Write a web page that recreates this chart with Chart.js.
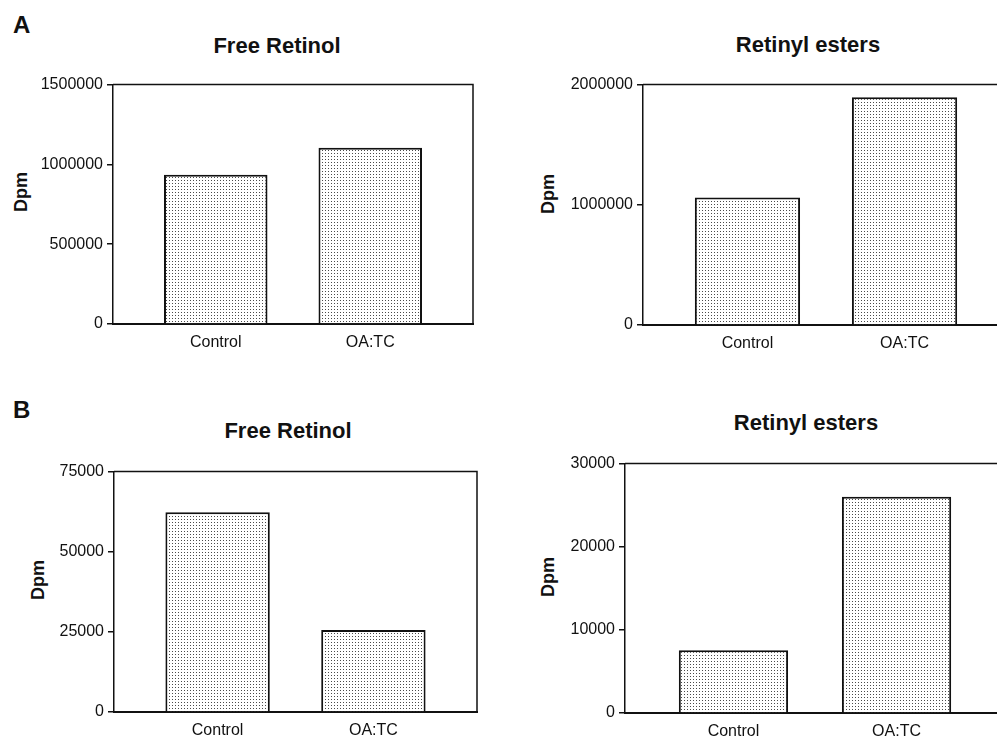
<!DOCTYPE html>
<html>
<head>
<meta charset="utf-8">
<script src="https://cdn.jsdelivr.net/npm/chart.js@4"></script>
<style>
  html, body { margin: 0; padding: 0; background: #fff; }
  body { position: relative; width: 997px; height: 738px; overflow: hidden;
         font-family: "Liberation Sans", Arial, sans-serif; color: #111; }
  canvas { position: absolute; }
  .panel { position: absolute; font-weight: bold; font-size: 24px; line-height: 1; }
  .title { position: absolute; width: 300px; text-align: center; font-weight: bold;
           font-size: 22px; line-height: 1; white-space: nowrap; }
  .ylab { position: absolute; font-weight: bold; font-size: 18px; line-height: 1;
          transform: translate(-50%, -50%) rotate(-90deg); white-space: nowrap; }
</style>
</head>
<body>
<div class="panel" style="left:13px; top:13px;">A</div>
<div class="panel" style="left:13px; top:398px;">B</div>

<div class="title" style="left:127px; top:35px;">Free Retinol</div>
<div class="title" style="left:658px; top:34px;">Retinyl esters</div>
<div class="title" style="left:138px; top:420px;">Free Retinol</div>
<div class="title" style="left:656px; top:412px;">Retinyl esters</div>

<div class="ylab" style="left:21px; top:192px;">Dpm</div>
<div class="ylab" style="left:548px; top:194px;">Dpm</div>
<div class="ylab" style="left:38px; top:580px;">Dpm</div>
<div class="ylab" style="left:548px; top:577px;">Dpm</div>

<canvas id="freeRetinolA" width="477" height="293" style="left:0px; top:71px;"></canvas>
<canvas id="retinylEstersA" width="513" height="294" style="left:500px; top:71px;"></canvas>
<canvas id="freeRetinolB" width="481" height="294" style="left:0px; top:458px;"></canvas>
<canvas id="retinylEstersB" width="509" height="303" style="left:500px; top:450px;"></canvas>

<script>
// Treatment groups
const categories = ['Control', 'OA:TC'];

// Radioactivity (Dpm) per group
const freeRetinolA   = [935000, 1105000];
const retinylEstersA = [1060000, 1895000];
const freeRetinolB   = [62300, 25600];
const retinylEstersB = [7550, 26000];

// Y-axis tick values
const ticksFreeRetinolA   = [0, 500000, 1000000, 1500000];
const ticksRetinylEstersA = [0, 1000000, 2000000];
const ticksFreeRetinolB   = [0, 25000, 50000, 75000];
const ticksRetinylEstersB = [0, 10000, 20000, 30000];

const INK = '#111';
const tickFont = { family: '"Liberation Sans", Arial, sans-serif', size: 16 };

// Fine dot screen used as bar fill
function dotPattern() {
  const tile = document.createElement('canvas');
  tile.width = 3; tile.height = 3;
  const t = tile.getContext('2d');
  t.fillStyle = '#fff';
  t.fillRect(0, 0, 3, 3);
  t.fillStyle = '#4a4a4a';
  t.fillRect(1, 1, 1, 1);
  return t.createPattern(tile, 'repeat');
}

// Closes the plot box with top and right edges
const framePlugin = {
  id: 'frame',
  afterDraw(chart) {
    const { ctx, chartArea: { left, right, top, bottom } } = chart;
    ctx.save();
    ctx.strokeStyle = INK;
    ctx.lineWidth = 1.5;
    ctx.beginPath();
    ctx.moveTo(left, top);
    ctx.lineTo(right, top);
    ctx.lineTo(right, bottom);
    ctx.stroke();
    ctx.restore();
  }
};

function drawBars(id, values, yTicks, axisWidth) {
  const canvas = document.getElementById(id);
  const ctx = canvas.getContext('2d');
  return new Chart(ctx, {
    type: 'bar',
    data: {
      datasets: [{
        data: categories.map((c, i) => ({ x: i, y: values[i] })),
        backgroundColor: dotPattern(),
        borderColor: INK,
        borderWidth: 2,
        borderSkipped: 'bottom',
        barPercentage: 0.67,
        categoryPercentage: 1
      }]
    },
    options: {
      responsive: false,
      animation: false,
      devicePixelRatio: 1,
      layout: { padding: { top: 12, right: 4, left: 0, bottom: 0 } },
      plugins: { legend: { display: false }, tooltip: { enabled: false } },
      scales: {
        x: {
          type: 'linear',
          offset: false,
          min: -0.665,
          max: 1.665,
          z: 1,
          afterBuildTicks: s => { s.ticks = categories.map((c, i) => ({ value: i })); },
          afterFit: s => { s.height = 40; },
          grid: { display: false },
          border: { color: INK, width: 2 },
          ticks: {
            callback: v => categories[v],
            font: tickFont, color: INK, padding: 1,
            autoSkip: false, maxRotation: 0
          }
        },
        y: {
          min: 0,
          max: yTicks[yTicks.length - 1],
          z: 1,
          afterBuildTicks: s => { s.ticks = yTicks.map(v => ({ value: v })); },
          afterFit: s => { s.width = axisWidth; },
          grid: { drawOnChartArea: false, tickLength: 6, color: INK, lineWidth: 1.5 },
          border: { color: INK, width: 1.5 },
          ticks: { callback: v => String(v), font: tickFont, color: INK, padding: 4 }
        }
      }
    },
    plugins: [framePlugin]
  });
}

drawBars('freeRetinolA', freeRetinolA, ticksFreeRetinolA, 113);
drawBars('retinylEstersA', retinylEstersA, ticksRetinylEstersA, 143);
drawBars('freeRetinolB', freeRetinolB, ticksFreeRetinolB, 114);
drawBars('retinylEstersB', retinylEstersB, ticksRetinylEstersB, 125);
</script>
</body>
</html>
